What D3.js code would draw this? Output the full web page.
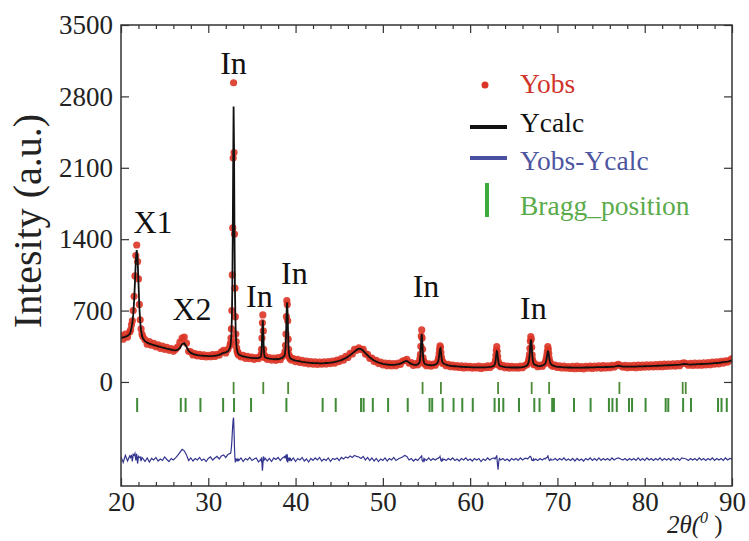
<!DOCTYPE html>
<html><head><meta charset="utf-8">
<script src="https://cdn.jsdelivr.net/npm/d3@7"></script>
<style>body{margin:0;background:#fff}svg{display:block}</style>
</head><body><svg id="chart" width="749" height="541"></svg>
<script>
// ---------- DATA ----------
const twoTheta = [
 20,20.25,20.5,20.75,21,
 21.1,21.2,21.3,21.4,21.5,21.6,21.7,21.8,21.9,22.0,22.1,22.2,22.3,22.4,22.5,
 22.75,23,23.25,23.5,23.75,24,24.25,24.5,24.75,25,25.25,25.5,25.75,26,26.25,26.5,26.75,27,27.25,27.5,27.75,28,28.25,28.5,28.75,29,29.25,29.5,29.75,30,30.25,30.5,30.75,31,31.25,31.5,31.75,32,32.25,32.5,
 32.55,32.6,32.65,32.7,32.75,32.8,32.85,32.9,32.95,33.0,33.05,33.1,33.15,33.2,33.25,33.3,33.35,33.4,33.45,33.5,
 33.75,34,34.25,34.5,34.75,35,35.25,35.5,35.75,
 36.0,36.05,36.1,36.15,36.2,36.25,36.3,36.35,36.4,36.45,36.5,
 36.75,37,37.25,37.5,37.75,38,38.25,38.5,38.75,
 38.8,38.85,38.9,38.95,39.0,39.05,39.1,39.15,39.2,39.25,39.3,39.35,39.4,
 39.5,39.75,40,40.25,40.5,40.75,41,41.25,41.5,41.75,42,42.25,42.5,42.75,43,43.25,43.5,43.75,44,44.25,44.5,44.75,45,45.25,45.5,45.75,46,46.25,46.5,46.75,47,47.25,47.5,47.75,48,48.25,48.5,48.75,49,49.25,49.5,49.75,50,50.25,50.5,50.75,51,51.25,51.5,51.75,52,52.25,52.5,52.75,53,53.25,53.5,53.75,54,
 54.2,54.25,54.3,54.35,54.4,54.45,54.5,54.55,54.6,54.65,54.7,54.75,54.8,
 55,55.25,55.5,55.75,56,56.25,
 56.35,56.4,56.45,56.5,56.55,56.6,56.65,56.7,56.75,56.8,56.85,
 57,57.25,57.5,57.75,58,58.25,58.5,58.75,59,59.25,59.5,59.75,60,60.25,60.5,60.75,61,61.25,61.5,61.75,62,62.25,62.5,62.75,
 62.85,62.9,62.95,63.0,63.05,63.1,63.15,63.2,63.25,63.3,63.35,
 63.5,63.75,64,64.25,64.5,64.75,65,65.25,65.5,65.75,66,66.25,66.5,
 66.6,66.65,66.7,66.75,66.8,66.85,66.9,66.95,67.0,67.05,67.1,67.15,67.2,67.25,67.3,
 67.5,67.75,68,68.25,68.5,
 68.6,68.65,68.7,68.75,68.8,68.85,68.9,68.95,69.0,69.05,69.1,69.15,69.2,69.25,69.3,
 69.5,69.75,70,70.25,70.5,70.75,71,71.25,71.5,71.75,72,72.25,72.5,72.75,73,73.25,73.5,73.75,74,74.25,74.5,74.75,75,75.25,75.5,75.75,76,76.25,76.5,76.75,77,77.25,77.5,77.75,78,78.25,78.5,78.75,79,79.25,79.5,79.75,80,80.25,80.5,80.75,81,81.25,81.5,81.75,82,82.25,82.5,82.75,83,83.25,83.5,83.75,84,84.25,84.5,84.75,85,85.25,85.5,85.75,86,86.25,86.5,86.75,87,87.25,87.5,87.75,88,88.25,88.5,88.75,89,89.25,89.5,89.75,90
];
const yObs = [
 455,420,470,440,490,
 510,560,600,700,840,1040,1240,1343,1180,1010,760,610,520,470,445,
 415,370,395,360,378,345,365,330,352,320,340,310,328,300,322,345,390,430,440,380,300,295,265,278,255,270,250,265,245,262,248,268,250,272,262,295,310,285,320,360,
 380,430,520,700,1050,1510,2196,2934,2250,1450,920,640,470,395,335,300,295,275,280,262,
 245,262,232,250,228,245,222,240,228,
 250,270,320,430,580,657,500,320,265,240,250,
 222,240,215,235,212,238,218,250,270,
 300,360,470,640,797,760,600,420,320,265,245,230,238,
 215,230,198,222,190,212,185,205,178,200,175,198,172,195,175,197,176,200,180,205,185,215,200,228,215,250,240,280,275,320,310,335,318,320,275,270,232,235,200,212,180,195,168,186,160,182,158,180,160,186,172,205,210,222,185,190,162,180,168,
 200,230,270,350,450,510,430,320,240,205,200,178,185,
 160,178,155,175,165,195,
 215,240,280,320,353,340,290,245,215,205,180,
 185,160,172,150,165,145,160,142,158,138,155,140,152,135,150,138,155,132,150,140,158,142,160,172,
 185,215,260,310,346,300,250,205,185,165,170,
 150,162,140,155,135,152,138,150,135,155,140,160,170,
 180,190,210,235,270,330,400,444,420,340,265,220,195,190,170,
 172,150,165,152,178,
 188,200,218,240,270,300,346,320,280,235,205,190,178,180,165,
 152,165,142,158,138,155,135,150,132,152,130,155,133,150,128,152,135,155,132,156,136,158,134,160,138,158,140,162,145,165,172,160,145,162,140,160,142,162,140,165,143,165,145,168,146,168,148,170,150,172,150,174,152,175,155,178,156,180,160,182,188,180,165,183,162,185,165,186,165,188,168,190,170,195,175,198,178,202,185,208,195,215,230
];
const yCalc = [
 430,438,445,452,470,
 495,530,580,660,790,980,1190,1294,1210,980,740,590,505,455,428,
 400,385,376,368,362,356,350,344,338,333,327,322,317,312,310,315,335,370,380,345,305,285,275,268,263,260,258,256,255,254,254,255,257,260,266,275,286,290,300,335,
 360,400,480,620,900,1400,2100,2700,2300,1500,950,650,480,390,340,310,292,282,275,270,
 258,250,245,241,238,236,234,233,234,
 245,260,300,400,540,605,480,340,275,252,242,
 234,229,226,224,223,225,229,238,262,
 290,340,440,610,760,780,630,440,330,275,250,238,232,
 225,216,210,206,202,198,195,192,190,188,186,185,184,183,183,184,186,188,190,193,197,202,208,215,224,235,248,263,280,298,315,326,322,306,284,262,242,225,211,200,191,184,178,174,171,169,168,168,170,174,180,190,202,206,192,178,171,168,172,
 192,215,255,330,420,470,420,330,255,215,195,185,178,
 170,166,164,165,170,185,
 205,228,262,300,325,330,300,255,222,200,188,
 178,169,163,159,156,154,152,150,149,148,147,146,145,144,144,143,143,143,143,144,145,147,151,160,
 178,200,235,275,300,295,262,220,190,172,162,
 156,150,146,144,143,142,142,142,142,143,145,150,162,
 172,182,196,218,250,300,370,415,405,345,275,228,200,185,176,
 165,158,156,159,170,
 180,190,205,225,250,278,300,298,272,240,212,195,183,176,171,
 160,153,149,147,145,144,143,142,142,141,141,141,141,141,141,142,142,143,144,144,145,145,146,146,147,147,148,149,151,155,160,156,151,150,150,150,150,151,151,152,152,153,154,155,155,156,157,158,159,160,161,162,163,164,165,166,167,168,170,173,176,175,172,171,172,173,174,175,176,177,178,179,180,182,184,186,188,191,194,197,200,205,212
];
const yDiff = [
 25,-30,40,-15,35,
 20,45,-20,50,40,60,-10,55,-40,30,20,25,-15,20,10,
 -20,15,-25,10,-5,20,-15,5,-10,25,0,-20,10,-5,15,40,70,100,85,45,-10,15,-15,10,-5,20,-10,5,-20,10,25,-5,15,30,5,35,45,20,50,60,
 60,80,120,180,260,330,390,410,280,120,20,-30,10,-10,5,-20,10,-15,5,-10,
 15,-20,10,-5,20,-10,5,15,-25,
 0,-10,20,-40,-110,-60,30,-20,10,-5,15,
 -15,10,-20,15,0,20,-10,15,30,
 10,30,40,20,-20,50,-30,15,-10,20,-15,5,10,
 -10,15,-20,10,-5,20,-15,5,-25,10,-10,15,-5,20,-15,5,-10,15,-20,10,0,15,-10,20,5,25,15,35,20,40,30,25,10,30,-5,20,-10,15,-15,10,-20,5,-10,15,-15,10,-5,20,-10,5,15,25,40,30,-5,10,-15,5,-10,
 10,15,20,25,30,40,-10,-15,-20,-10,5,-10,5,
 -10,15,-10,10,-5,10,
 10,15,20,20,30,10,-10,-15,-5,5,-10,
 5,-10,10,-5,15,-10,5,-15,10,-5,15,-10,5,-15,10,-5,10,-20,5,-10,15,-5,10,15,
 5,10,20,30,40,-20,-60,-100,-40,-10,10,
 -5,10,-10,5,-15,10,-5,10,-10,15,-5,10,10,
 5,10,15,20,25,30,30,25,15,-5,-10,-10,-5,5,-10,
 5,-10,10,-5,10,
 5,10,15,15,20,20,40,20,5,-5,-10,-5,-5,5,-5,
 -5,10,-10,10,-5,15,-10,5,-10,10,-15,10,-10,5,-15,10,-5,15,-10,10,-10,15,-10,10,-5,10,-10,15,-5,10,15,5,-5,10,-10,10,-5,10,-10,15,-10,10,-10,15,-5,10,-10,10,-5,15,-10,10,-5,10,-10,15,-5,10,-10,15,10,5,-10,10,-5,10,-10,15,-5,10,-10,10,-5,15,-10,10,-5,10,-10,15,-5,10,5
];
const diffOffset = -760;
const braggIn = [32.9,36.3,39.15,54.55,56.65,63.2,67.05,69.05,77.1,84.35,84.7];
const braggX = [21.85,26.85,27.4,29.1,31.7,32.95,34.9,38.95,43.1,44.6,47.5,47.8,48.85,50.6,52.85,55.35,55.65,56.85,58.1,59.1,60.3,62.8,63.3,63.8,65.6,67.35,67.95,69.4,69.6,71.9,73.8,75.9,76.3,76.8,78.2,78.55,80.1,82.4,82.7,84.4,85.3,88.4,88.8,89.4];
const xTicks = [20,30,40,50,60,70,80,90];
const xMinorTicks = [22,24,26,28,32,34,36,38,42,44,46,48,52,54,56,58,62,64,66,68,72,74,76,78,82,84,86,88];
const yTicks = [0,700,1400,2100,2800,3500];
const peakLabels = ["X1","X2","In","In","In","In","In"];
const peakLabelTheta = [23.67,28.13,32.89,35.86,39.87,54.94,67.25];
const peakLabelY = [1461,608,3020,735,961,833,618];
const legendLabels = ["Yobs","Ycalc","Yobs-Ycalc","Bragg_position"];

// ---------- CHART ----------
const FONT = '"Liberation Serif"';
const svg = d3.select("#chart");
const L = 121, R = 732, T = 25, B = 486;
const x = d3.scaleLinear().domain([20, 90]).range([L, R]);
const y = d3.scaleLinear().domain([-1020, 3500]).range([B, T]);

svg.append("defs").append("clipPath").attr("id","clip")
  .append("rect").attr("x",L).attr("y",T).attr("width",R-L).attr("height",B-T);

const n = Math.min(twoTheta.length, yObs.length, yCalc.length, yDiff.length);
const idx = d3.range(n);
const plot = svg.append("g").attr("clip-path","url(#clip)");

plot.append("g").selectAll("circle").data(idx).join("circle")
  .attr("cx", i => x(twoTheta[i])).attr("cy", i => y(yObs[i]))
  .attr("r", 3.6).attr("fill", "#dc3526").attr("fill-opacity", 0.9);

plot.append("path").datum(idx)
  .attr("fill","none").attr("stroke","#111").attr("stroke-width",1.8)
  .attr("d", d3.line().x(i => x(twoTheta[i])).y(i => y(yCalc[i])));

const y0 = y(0);
plot.append("g").selectAll("line").data(braggIn).join("line")
  .attr("x1", d => x(d)).attr("x2", d => x(d))
  .attr("y1", y0).attr("y2", y0 + 12)
  .attr("stroke", "#4d8a35").attr("stroke-width", 1.8);
plot.append("g").selectAll("line").data(braggX).join("line")
  .attr("x1", d => x(d)).attr("x2", d => x(d))
  .attr("y1", y0 + 16).attr("y2", y0 + 30)
  .attr("stroke", "#3f8a36").attr("stroke-width", 2);

plot.append("path").datum(idx)
  .attr("fill","none").attr("stroke","#34358f").attr("stroke-width",1.2)
  .attr("d", d3.line().x(i => x(twoTheta[i])).y(i => y(yDiff[i] + diffOffset)));

function styleAxis(g, fs) {
  g.attr("font-family", null);
  g.select(".domain").remove();
  g.selectAll(".tick line").attr("stroke","#333").attr("stroke-width",1.2);
  g.selectAll(".tick text").style("font-family", FONT).style("font-size", fs + "px").attr("fill","#222");
}
svg.append("g").attr("transform",`translate(0,${B})`)
  .call(d3.axisBottom(x).tickValues(xTicks).tickSizeInner(-8).tickSizeOuter(0).tickPadding(6).tickFormat(d3.format("d")))
  .call(g => styleAxis(g, 27));
svg.append("g").attr("transform",`translate(0,${B})`)
  .call(d3.axisBottom(x).tickValues(xMinorTicks).tickSizeInner(-4).tickSizeOuter(0).tickFormat(""))
  .call(g => styleAxis(g, 27));
svg.append("g").attr("transform",`translate(0,${T})`)
  .call(d3.axisTop(x).tickValues(xTicks).tickSizeInner(-8).tickSizeOuter(0).tickFormat(""))
  .call(g => styleAxis(g, 27));
svg.append("g").attr("transform",`translate(0,${T})`)
  .call(d3.axisTop(x).tickValues(xMinorTicks).tickSizeInner(-4).tickSizeOuter(0).tickFormat(""))
  .call(g => styleAxis(g, 27));
svg.append("g").attr("transform",`translate(${L},0)`)
  .call(d3.axisLeft(y).tickValues(yTicks).tickSizeInner(-8).tickSizeOuter(0).tickPadding(8).tickFormat(d3.format("d")))
  .call(g => styleAxis(g, 27));
svg.append("g").attr("transform",`translate(${R},0)`)
  .call(d3.axisRight(y).tickValues(yTicks).tickSizeInner(-8).tickSizeOuter(0).tickFormat(""))
  .call(g => styleAxis(g, 27));

svg.append("rect").attr("x",L).attr("y",T).attr("width",R-L).attr("height",B-T)
  .attr("fill","none").attr("stroke","#333").attr("stroke-width",1.5);

// axis titles
svg.append("text").attr("transform","translate(41,221) rotate(-90)")
  .attr("text-anchor","middle").style("font-family",FONT).style("font-size","40px").attr("fill","#222")
  .text("Intesity (a.u.)");
const xt = svg.append("text").attr("x",667).attr("y",533)
  .style("font-family",FONT).style("font-size","25px").style("font-style","italic").attr("fill","#222");
xt.append("tspan").text("2θ(");
xt.append("tspan").style("font-size","16px").attr("dy",-10).text("0");
xt.append("tspan").attr("dy",10).style("font-style","normal").text(" )");

// peak labels
svg.append("g").selectAll("text").data(d3.range(peakLabels.length)).join("text")
  .attr("x", i => x(peakLabelTheta[i])).attr("y", i => y(peakLabelY[i]))
  .attr("text-anchor","middle").style("font-family",FONT).style("font-size","32px").attr("fill","#111")
  .text(i => peakLabels[i]);

// legend
const lg = svg.append("g");
lg.append("circle").attr("cx",485).attr("cy",85).attr("r",3.5).attr("fill","#dc3526");
lg.append("line").attr("x1",470).attr("x2",507).attr("y1",127).attr("y2",127).attr("stroke","#111").attr("stroke-width",4);
lg.append("line").attr("x1",470).attr("x2",507).attr("y1",158).attr("y2",158).attr("stroke","#4a4fa0").attr("stroke-width",4);
lg.append("line").attr("x1",487).attr("x2",487).attr("y1",183).attr("y2",217).attr("stroke","#3daa3d").attr("stroke-width",4);
const legendColors = ["#d0332a","#111","#4d55a0","#5aab4a"];
const legendBase = [93,132,170,215];
lg.selectAll("text").data(d3.range(4)).join("text")
  .attr("x",520).attr("y", i => legendBase[i]).attr("fill", i => legendColors[i])
  .style("font-family",FONT).style("font-size","27.5px")
  .text(i => legendLabels[i]);
</script>
</body></html>
